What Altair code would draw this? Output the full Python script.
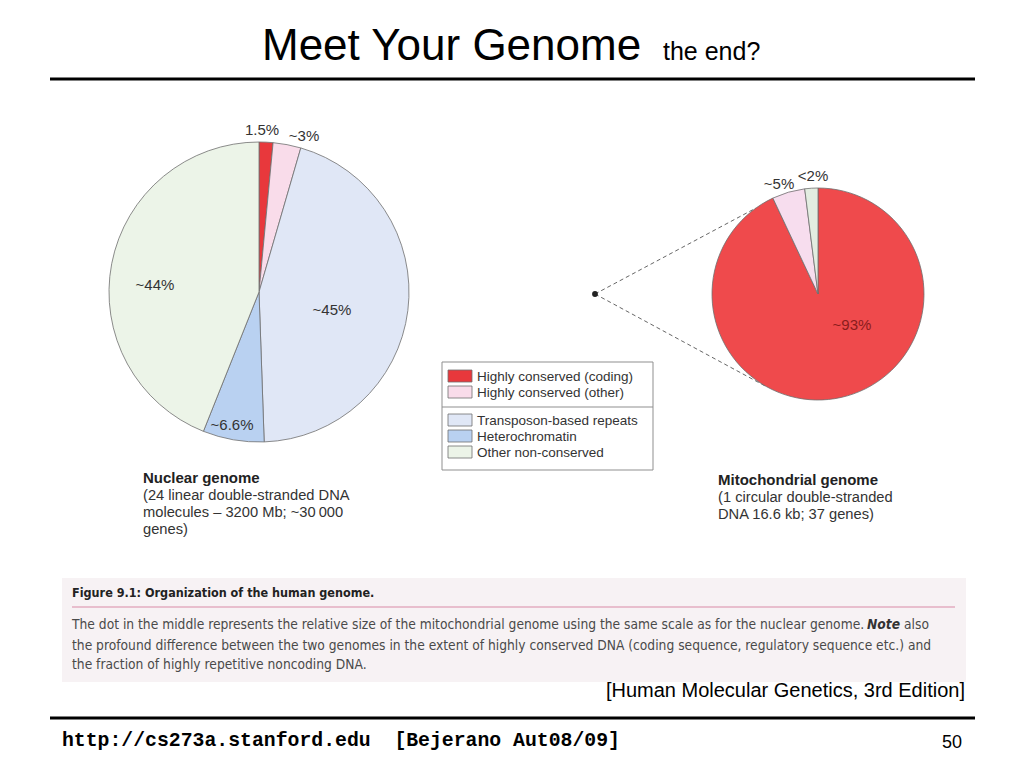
import altair as alt
import pandas as pd

# ---------------- data ----------------
nuclear_categories = ["Highly conserved (coding)", "Highly conserved (other)",
                      "Transposon-based repeats", "Heterochromatin", "Other non-conserved"]
nuclear_values = [1.5, 3, 45, 6.6, 44]
nuclear_labels = ["1.5%", "~3%", "~45%", "~6.6%", "~44%"]

mito_categories = ["Highly conserved (coding)", "Highly conserved (other)", "Other non-conserved"]
mito_values = [93, 5, 2]
mito_labels = ["~93%", "~5%", "<2%"]

legend_categories = ["Highly conserved (coding)", "Highly conserved (other)",
                     "Transposon-based repeats", "Heterochromatin", "Other non-conserved"]
legend_colors = ["#e8383c", "#f9dcea", "#e0e7f6", "#b9d1f1", "#ecf4e8"]
mito_colors = ["#ef4a4c", "#f7ddee", "#e3ede1"]

caption_title = "Figure 9.1: Organization of the human genome."
caption_lines = [
    "The dot in the middle represents the relative size of the mitochondrial genome using the same scale as for the nuclear genome.",
    "the profound difference between the two genomes in the extent of highly conserved DNA (coding sequence, regulatory sequence etc.) and",
    "the fraction of highly repetitive noncoding DNA.",
]

# ---------------- layout helpers ----------------
OX, OY = 8, 8  # page margin
base = alt.Chart(pd.DataFrame({"k": [0]}))
SANS = "Liberation Sans, Arial, Helvetica, sans-serif"
NARROW = "Liberation Sans Narrow, DejaVu Sans Condensed, Arial Narrow, sans-serif"


def T(s, x, y, size, color="#000", font=SANS, weight="normal", style="normal", align="left"):
    return base.mark_text(text=s, fontSize=size, color=color, font=font, fontWeight=weight,
                          fontStyle=style, align=align, baseline="alphabetic").encode(
        x=alt.value(x - OX), y=alt.value(y - OY))


def R(x1, x2, y1, y2, **kw):
    return base.mark_rect(**kw).encode(x=alt.value(x1 - OX), x2=alt.value(x2 - OX),
                                       y=alt.value(y1 - OY), y2=alt.value(y2 - OY))


def L(x1, y1, x2, y2, **kw):
    return base.mark_rule(**kw).encode(x=alt.value(x1 - OX), x2=alt.value(x2 - OX),
                                       y=alt.value(y1 - OY), y2=alt.value(y2 - OY))


color_of = dict(zip(legend_categories, legend_colors))


def pie(cats, vals, colors, cx, cy, r):
    df = pd.DataFrame({"category": cats, "value": vals, "color": colors,
                       "order": list(range(len(cats)))})
    return alt.Chart(df).mark_arc(outerRadius=r, stroke="#6e6e6e", strokeWidth=0.8).encode(
        theta=alt.Theta("value:Q", stack=True),
        color=alt.Color("color:N", scale=None),
        order=alt.Order("order:Q"),
        x=alt.value(cx - OX), y=alt.value(cy - OY),
    )


layers = []

# title
layers.append(T("Meet Your Genome", 262, 60, 44))
layers.append(T("the end?", 663, 60, 25))
layers.append(L(50, 79, 975, 79, color="#000", strokeWidth=3))

# nuclear pie
layers.append(pie(nuclear_categories, nuclear_values,
                  [color_of[c] for c in nuclear_categories], 259, 292, 150))
nuc_label_pos = [(262, 135), (304, 141), (332, 315), (232, 430), (155, 290)]
for lab, (x, y) in zip(nuclear_labels, nuc_label_pos):
    layers.append(T(lab, x, y, 15, color="#333", align="center"))

# mitochondrial pie + dot + dashed guides
layers.append(L(595, 294, 756, 208, color="#555", strokeWidth=0.9, strokeDash=[4, 3]))
layers.append(L(595, 294, 767, 387, color="#555", strokeWidth=0.9, strokeDash=[4, 3]))
layers.append(base.mark_circle(size=34, color="#222", opacity=1).encode(
    x=alt.value(595 - OX), y=alt.value(294 - OY)))
layers.append(pie(mito_categories, mito_values, mito_colors, 818, 294, 106))
mito_label_pos = [(852, 330), (779, 189), (813, 181)]
mito_label_col = ["#8a1c1c", "#333", "#333"]
for lab, (x, y), c in zip(mito_labels, mito_label_pos, mito_label_col):
    layers.append(T(lab, x, y, 15, color=c, align="center"))

# legend box
layers.append(R(442, 653, 362, 470, fill="#ffffff", stroke="#8f8f8f", strokeWidth=1))
layers.append(L(442, 407, 653, 407, color="#8f8f8f", strokeWidth=1))
legend_y = [376, 392, 420, 436, 452]
for cat, col, y in zip(legend_categories, legend_colors, legend_y):
    layers.append(R(448, 472, y - 6, y + 6, fill=col, stroke="#6e6e6e", strokeWidth=0.8))
    layers.append(T(cat, 477, y + 4.5, 13.5, color="#333"))

# genome descriptions
layers.append(T("Nuclear genome", 143, 483, 15, color="#222", weight="bold"))
for i, s in enumerate(["(24 linear double-stranded DNA", "molecules \u2013 3200 Mb; ~30\u2009000", "genes)"]):
    layers.append(T(s, 143, 500 + 17 * i, 14.7, color="#333"))
layers.append(T("Mitochondrial genome", 718, 485, 15, color="#222", weight="bold"))
for i, s in enumerate(["(1 circular double-stranded", "DNA 16.6 kb; 37 genes)"]):
    layers.append(T(s, 718, 502 + 17 * i, 14.7, color="#333"))

# caption box
layers.append(R(62, 966, 578, 682, fill="#f7f2f4"))
layers.append(T(caption_title, 72, 597, 12.5, color="#222", font=NARROW, weight="bold"))
layers.append(L(72, 607, 955, 607, color="#d98aa5", strokeWidth=1.2))
layers.append(T(caption_lines[0], 72, 629, 13.7, color="#4a4a4a", font=NARROW))
layers.append(T("Note", 867, 629, 13.7, color="#333", font=NARROW, weight="bold", style="italic"))
layers.append(T("also", 904, 629, 13.7, color="#4a4a4a", font=NARROW))
layers.append(T(caption_lines[1], 72, 650, 13.7, color="#4a4a4a", font=NARROW))
layers.append(T(caption_lines[2], 72, 669, 13.7, color="#4a4a4a", font=NARROW))

layers.append(T("[Human Molecular Genetics, 3rd Edition]", 965, 697, 20, color="#000", align="right"))

# footer
layers.append(L(50, 718, 975, 718, color="#000", strokeWidth=3))
layers.append(T("http://cs273a.stanford.edu\u00a0\u00a0[Bejerano Aut08/09]", 62, 746, 19.8, color="#000",
                font="Liberation Mono, Courier New, monospace", weight="bold"))
layers.append(T("50", 962, 748, 18, color="#000", align="right"))

chart = alt.layer(*layers).resolve_scale(theta="independent").properties(
    width=1008, height=752, padding=0, autosize=alt.AutoSizeParams(type="none"),
    background="#ffffff",
).configure_view(stroke=None)

chart.save("out.html", embed_options={"renderer": "svg", "actions": False})
